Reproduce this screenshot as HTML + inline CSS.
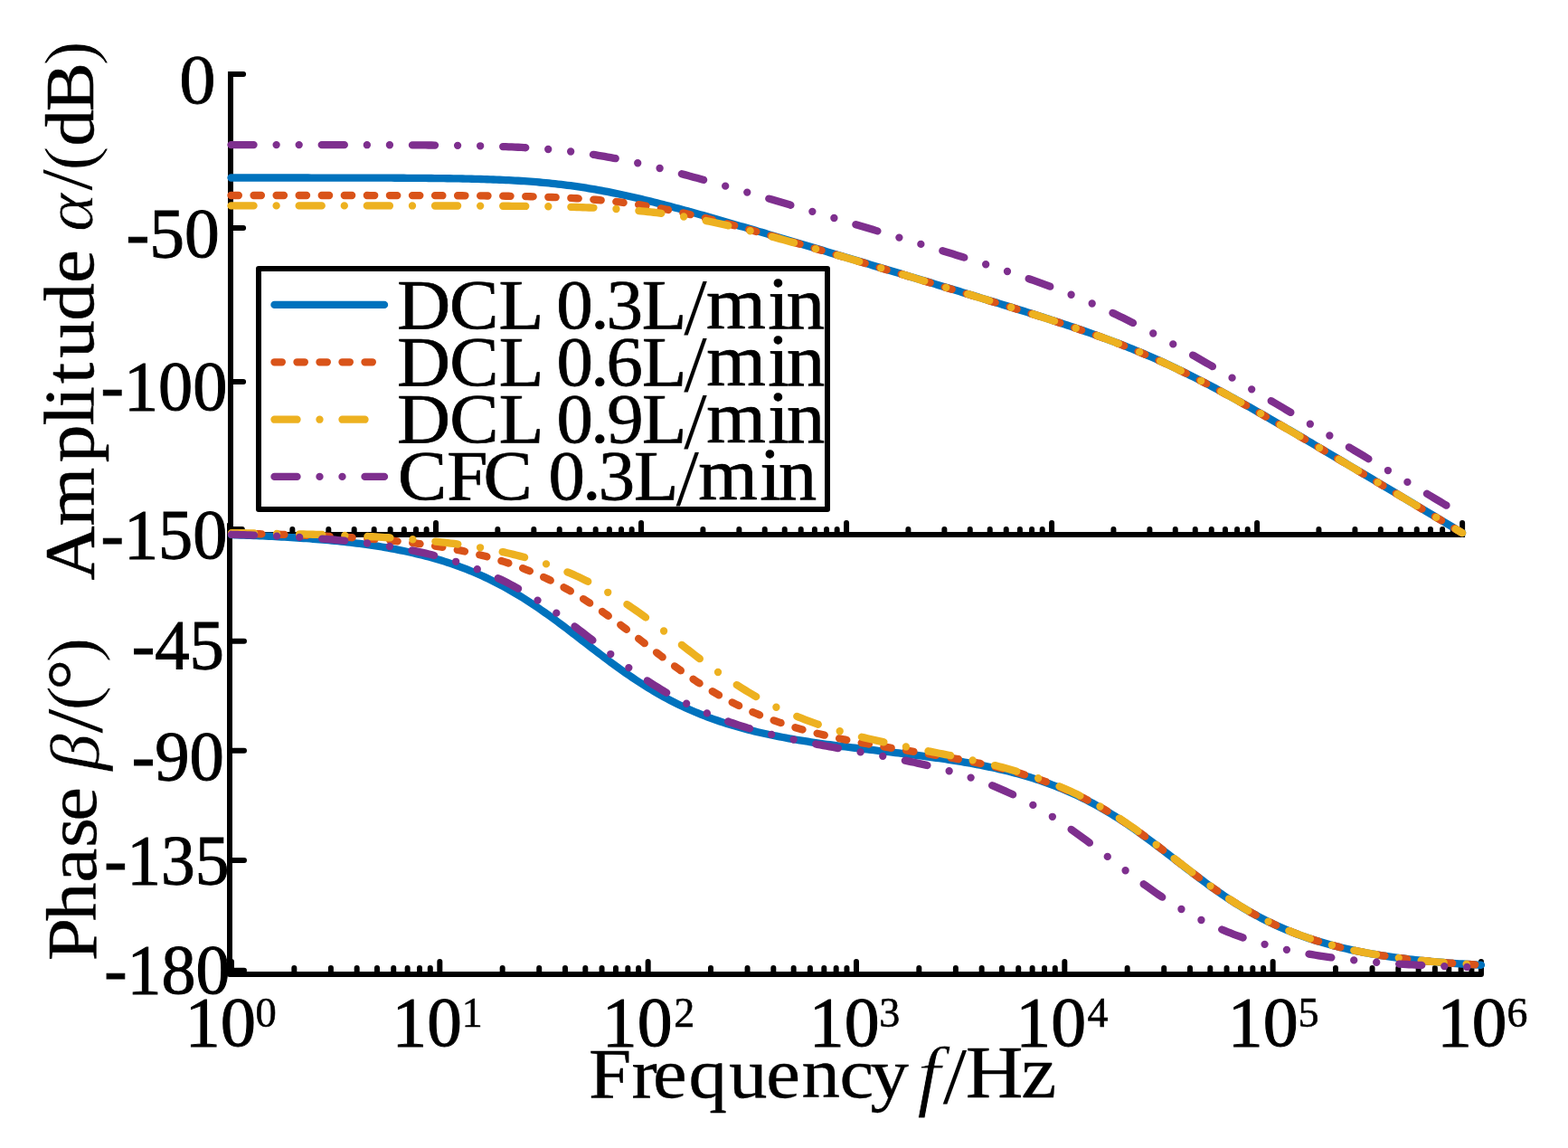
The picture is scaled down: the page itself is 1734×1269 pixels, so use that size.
<!DOCTYPE html>
<html lang="en"><head><meta charset="utf-8"><title>Bode plot: Amplitude and Phase vs Frequency</title>
<style>html,body{margin:0;padding:0;background:#fff}body{width:1734px;height:1269px;overflow:hidden}svg{display:block}text{font-family:"Liberation Serif",serif}</style>
</head><body>
<svg width="1734" height="1269" viewBox="0 0 1734 1269">
<rect width="1734" height="1269" fill="#fff"/>
<g stroke="#000" fill="none" stroke-width="6.00">
<path d="M255.0 82 V591.0" stroke-linecap="square"/>
<path d="M255.0 591.0 H1617.1" stroke-linecap="square"/>
<path d="M255.00 591.0 V578.0 M323.34 591.0 V585.0 M363.32 591.0 V585.0 M391.68 591.0 V585.0 M413.68 591.0 V585.0 M431.66 591.0 V585.0 M446.85 591.0 V585.0 M460.02 591.0 V585.0 M471.63 591.0 V585.0 M482.02 591.0 V578.0 M550.36 591.0 V585.0 M590.34 591.0 V585.0 M618.70 591.0 V585.0 M640.70 591.0 V585.0 M658.68 591.0 V585.0 M673.87 591.0 V585.0 M687.04 591.0 V585.0 M698.65 591.0 V585.0 M709.04 591.0 V578.0 M777.38 591.0 V585.0 M817.36 591.0 V585.0 M845.72 591.0 V585.0 M867.72 591.0 V585.0 M885.70 591.0 V585.0 M900.89 591.0 V585.0 M914.06 591.0 V585.0 M925.67 591.0 V585.0 M936.06 591.0 V578.0 M1004.40 591.0 V585.0 M1044.38 591.0 V585.0 M1072.74 591.0 V585.0 M1094.74 591.0 V585.0 M1112.72 591.0 V585.0 M1127.91 591.0 V585.0 M1141.08 591.0 V585.0 M1152.69 591.0 V585.0 M1163.08 591.0 V578.0 M1231.42 591.0 V585.0 M1271.40 591.0 V585.0 M1299.76 591.0 V585.0 M1321.76 591.0 V585.0 M1339.74 591.0 V585.0 M1354.93 591.0 V585.0 M1368.10 591.0 V585.0 M1379.71 591.0 V585.0 M1390.10 591.0 V578.0 M1458.44 591.0 V585.0 M1498.42 591.0 V585.0 M1526.78 591.0 V585.0 M1548.78 591.0 V585.0 M1566.76 591.0 V585.0 M1581.95 591.0 V585.0 M1595.12 591.0 V585.0 M1606.73 591.0 V585.0 M1617.12 591.0 V578.0" stroke-linecap="round"/>
<path d="M255.0 82 H269.1 M255.0 252 H269.1 M255.0 422 H269.1" stroke-linecap="round"/>
</g>
<g>
<path d="M255.50 196.51 L258.91 196.51 L262.33 196.51 L265.74 196.51 L269.15 196.51 L272.56 196.51 L275.98 196.51 L279.39 196.51 L282.80 196.51 L286.21 196.51 L289.63 196.51 L293.04 196.51 L296.45 196.51 L299.86 196.51 L303.28 196.52 L306.69 196.52 L310.10 196.52 L313.51 196.52 L316.93 196.52 L320.34 196.52 L323.75 196.52 L327.16 196.52 L330.58 196.53 L333.99 196.53 L337.40 196.53 L340.81 196.53 L344.23 196.54 L347.64 196.54 L351.05 196.54 L354.46 196.54 L357.88 196.55 L361.29 196.55 L364.70 196.55 L368.11 196.56 L371.53 196.56 L374.94 196.57 L378.35 196.57 L381.76 196.58 L385.18 196.58 L388.59 196.59 L392.00 196.59 L395.41 196.60 L398.83 196.61 L402.24 196.61 L405.65 196.62 L409.06 196.63 L412.48 196.64 L415.89 196.65 L419.30 196.66 L422.71 196.67 L426.13 196.69 L429.54 196.70 L432.95 196.71 L436.36 196.73 L439.78 196.74 L443.19 196.76 L446.60 196.78 L450.01 196.80 L453.43 196.82 L456.84 196.84 L460.25 196.87 L463.66 196.89 L467.08 196.92 L470.49 196.95 L473.90 196.98 L477.31 197.02 L480.73 197.05 L484.14 197.09 L487.55 197.13 L490.96 197.18 L494.38 197.23 L497.79 197.28 L501.20 197.33 L504.61 197.39 L508.03 197.45 L511.44 197.52 L514.85 197.59 L518.26 197.66 L521.68 197.74 L525.09 197.83 L528.50 197.92 L531.92 198.01 L535.33 198.12 L538.74 198.23 L542.15 198.34 L545.57 198.47 L548.98 198.60 L552.39 198.74 L555.80 198.89 L559.22 199.04 L562.63 199.21 L566.04 199.39 L569.45 199.57 L572.87 199.77 L576.28 199.98 L579.69 200.20 L583.10 200.43 L586.52 200.68 L589.93 200.94 L593.34 201.21 L596.75 201.50 L600.17 201.80 L603.58 202.11 L606.99 202.44 L610.40 202.79 L613.82 203.15 L617.23 203.53 L620.64 203.93 L624.05 204.34 L627.47 204.77 L630.88 205.22 L634.29 205.68 L637.70 206.17 L641.12 206.67 L644.53 207.18 L647.94 207.72 L651.35 208.27 L654.77 208.84 L658.18 209.43 L661.59 210.03 L665.00 210.66 L668.42 211.29 L671.83 211.95 L675.24 212.62 L678.65 213.31 L682.07 214.01 L685.48 214.73 L688.89 215.46 L692.30 216.20 L695.72 216.96 L699.13 217.74 L702.54 218.52 L705.95 219.32 L709.37 220.13 L712.78 220.95 L716.19 221.78 L719.60 222.62 L723.02 223.47 L726.43 224.34 L729.84 225.21 L733.25 226.09 L736.67 226.97 L740.08 227.87 L743.49 228.77 L746.90 229.68 L750.32 230.60 L753.73 231.52 L757.14 232.45 L760.55 233.39 L763.97 234.32 L767.38 235.27 L770.79 236.22 L774.20 237.17 L777.62 238.13 L781.03 239.09 L784.44 240.06 L787.85 241.03 L791.27 242.00 L794.68 242.98 L798.09 243.95 L801.51 244.94 L804.92 245.92 L808.33 246.91 L811.74 247.89 L815.16 248.88 L818.57 249.88 L821.98 250.87 L825.39 251.87 L828.81 252.86 L832.22 253.86 L835.63 254.86 L839.04 255.87 L842.46 256.87 L845.87 257.87 L849.28 258.88 L852.69 259.89 L856.11 260.89 L859.52 261.90 L862.93 262.91 L866.34 263.92 L869.76 264.93 L873.17 265.94 L876.58 266.95 L879.99 267.97 L883.41 268.98 L886.82 269.99 L890.23 271.01 L893.64 272.02 L897.06 273.04 L900.47 274.05 L903.88 275.07 L907.29 276.08 L910.71 277.10 L914.12 278.12 L917.53 279.14 L920.94 280.15 L924.36 281.17 L927.77 282.19 L931.18 283.21 L934.59 284.23 L938.01 285.25 L941.42 286.26 L944.83 287.28 L948.24 288.30 L951.66 289.32 L955.07 290.34 L958.48 291.36 L961.89 292.38 L965.31 293.40 L968.72 294.43 L972.13 295.45 L975.54 296.47 L978.96 297.49 L982.37 298.51 L985.78 299.53 L989.19 300.56 L992.61 301.58 L996.02 302.60 L999.43 303.62 L1002.84 304.65 L1006.26 305.67 L1009.67 306.70 L1013.08 307.72 L1016.49 308.74 L1019.91 309.77 L1023.32 310.79 L1026.73 311.82 L1030.14 312.85 L1033.56 313.87 L1036.97 314.90 L1040.38 315.93 L1043.79 316.96 L1047.21 317.99 L1050.62 319.01 L1054.03 320.05 L1057.44 321.08 L1060.86 322.11 L1064.27 323.14 L1067.68 324.17 L1071.09 325.21 L1074.51 326.24 L1077.92 327.28 L1081.33 328.32 L1084.75 329.36 L1088.16 330.40 L1091.57 331.44 L1094.98 332.48 L1098.40 333.52 L1101.81 334.57 L1105.22 335.62 L1108.63 336.67 L1112.05 337.72 L1115.46 338.77 L1118.87 339.83 L1122.28 340.89 L1125.70 341.95 L1129.11 343.02 L1132.52 344.08 L1135.93 345.15 L1139.35 346.23 L1142.76 347.30 L1146.17 348.39 L1149.58 349.47 L1153.00 350.56 L1156.41 351.66 L1159.82 352.76 L1163.23 353.86 L1166.65 354.97 L1170.06 356.09 L1173.47 357.21 L1176.88 358.34 L1180.30 359.47 L1183.71 360.62 L1187.12 361.77 L1190.53 362.92 L1193.95 364.09 L1197.36 365.27 L1200.77 366.45 L1204.18 367.65 L1207.60 368.85 L1211.01 370.07 L1214.42 371.30 L1217.83 372.54 L1221.25 373.79 L1224.66 375.05 L1228.07 376.33 L1231.48 377.62 L1234.90 378.92 L1238.31 380.24 L1241.72 381.57 L1245.13 382.92 L1248.55 384.29 L1251.96 385.67 L1255.37 387.06 L1258.78 388.48 L1262.20 389.91 L1265.61 391.35 L1269.02 392.82 L1272.43 394.30 L1275.85 395.80 L1279.26 397.31 L1282.67 398.85 L1286.08 400.40 L1289.50 401.97 L1292.91 403.56 L1296.32 405.16 L1299.73 406.79 L1303.15 408.42 L1306.56 410.08 L1309.97 411.75 L1313.38 413.44 L1316.80 415.15 L1320.21 416.86 L1323.62 418.60 L1327.03 420.35 L1330.45 422.11 L1333.86 423.89 L1337.27 425.68 L1340.68 427.48 L1344.10 429.30 L1347.51 431.13 L1350.92 432.97 L1354.34 434.82 L1357.75 436.68 L1361.16 438.55 L1364.57 440.43 L1367.99 442.32 L1371.40 444.22 L1374.81 446.12 L1378.22 448.04 L1381.64 449.96 L1385.05 451.89 L1388.46 453.82 L1391.87 455.77 L1395.29 457.71 L1398.70 459.67 L1402.11 461.63 L1405.52 463.59 L1408.94 465.56 L1412.35 467.53 L1415.76 469.51 L1419.17 471.49 L1422.59 473.48 L1426.00 475.47 L1429.41 477.46 L1432.82 479.46 L1436.24 481.45 L1439.65 483.46 L1443.06 485.46 L1446.47 487.47 L1449.89 489.47 L1453.30 491.48 L1456.71 493.50 L1460.12 495.51 L1463.54 497.53 L1466.95 499.55 L1470.36 501.56 L1473.77 503.58 L1477.19 505.61 L1480.60 507.63 L1484.01 509.65 L1487.42 511.68 L1490.84 513.71 L1494.25 515.73 L1497.66 517.76 L1501.07 519.79 L1504.49 521.82 L1507.90 523.85 L1511.31 525.88 L1514.72 527.92 L1518.14 529.95 L1521.55 531.98 L1524.96 534.02 L1528.37 536.05 L1531.79 538.08 L1535.20 540.12 L1538.61 542.16 L1542.02 544.19 L1545.44 546.23 L1548.85 548.26 L1552.26 550.30 L1555.67 552.34 L1559.09 554.38 L1562.50 556.41 L1565.91 558.45 L1569.32 560.49 L1572.74 562.53 L1576.15 564.57 L1579.56 566.60 L1582.97 568.64 L1586.39 570.68 L1589.80 572.72 L1593.21 574.76 L1596.62 576.80 L1600.04 578.84 L1603.45 580.88 L1606.86 582.92 L1610.27 584.96 L1613.69 587.00 L1617.10 589.04" fill="none" stroke="#0072BD" stroke-width="8.33" stroke-linecap="round" stroke-linejoin="round"/>
<path d="M255.50 216.00 L258.91 216.00 L262.33 216.00 L265.74 216.00 L269.15 216.00 L272.56 216.00 L275.98 216.00 L279.39 216.00 L282.80 216.00 L286.21 216.00 L289.63 216.00 L293.04 216.00 L296.45 216.00 L299.86 216.00 L303.28 216.00 L306.69 216.00 L310.10 216.00 L313.51 216.01 L316.93 216.01 L320.34 216.01 L323.75 216.01 L327.16 216.01 L330.58 216.01 L333.99 216.01 L337.40 216.01 L340.81 216.01 L344.23 216.01 L347.64 216.01 L351.05 216.01 L354.46 216.01 L357.88 216.01 L361.29 216.01 L364.70 216.01 L368.11 216.02 L371.53 216.02 L374.94 216.02 L378.35 216.02 L381.76 216.02 L385.18 216.02 L388.59 216.02 L392.00 216.03 L395.41 216.03 L398.83 216.03 L402.24 216.03 L405.65 216.03 L409.06 216.04 L412.48 216.04 L415.89 216.04 L419.30 216.04 L422.71 216.05 L426.13 216.05 L429.54 216.05 L432.95 216.06 L436.36 216.06 L439.78 216.07 L443.19 216.07 L446.60 216.08 L450.01 216.08 L453.43 216.09 L456.84 216.09 L460.25 216.10 L463.66 216.11 L467.08 216.11 L470.49 216.12 L473.90 216.13 L477.31 216.14 L480.73 216.15 L484.14 216.16 L487.55 216.17 L490.96 216.19 L494.38 216.20 L497.79 216.21 L501.20 216.23 L504.61 216.24 L508.03 216.26 L511.44 216.28 L514.85 216.30 L518.26 216.32 L521.68 216.34 L525.09 216.37 L528.50 216.40 L531.92 216.42 L535.33 216.45 L538.74 216.49 L542.15 216.52 L545.57 216.56 L548.98 216.59 L552.39 216.64 L555.80 216.68 L559.22 216.73 L562.63 216.78 L566.04 216.83 L569.45 216.89 L572.87 216.95 L576.28 217.02 L579.69 217.09 L583.10 217.17 L586.52 217.25 L589.93 217.33 L593.34 217.42 L596.75 217.52 L600.17 217.62 L603.58 217.73 L606.99 217.85 L610.40 217.97 L613.82 218.11 L617.23 218.25 L620.64 218.39 L624.05 218.55 L627.47 218.72 L630.88 218.90 L634.29 219.08 L637.70 219.28 L641.12 219.49 L644.53 219.71 L647.94 219.95 L651.35 220.19 L654.77 220.45 L658.18 220.73 L661.59 221.01 L665.00 221.31 L668.42 221.63 L671.83 221.96 L675.24 222.31 L678.65 222.67 L682.07 223.05 L685.48 223.45 L688.89 223.87 L692.30 224.30 L695.72 224.74 L699.13 225.21 L702.54 225.69 L705.95 226.19 L709.37 226.71 L712.78 227.25 L716.19 227.80 L719.60 228.37 L723.02 228.96 L726.43 229.57 L729.84 230.19 L733.25 230.83 L736.67 231.49 L740.08 232.16 L743.49 232.84 L746.90 233.55 L750.32 234.27 L753.73 235.00 L757.14 235.74 L760.55 236.50 L763.97 237.28 L767.38 238.06 L770.79 238.86 L774.20 239.67 L777.62 240.49 L781.03 241.33 L784.44 242.17 L787.85 243.02 L791.27 243.88 L794.68 244.76 L798.09 245.64 L801.51 246.52 L804.92 247.42 L808.33 248.32 L811.74 249.23 L815.16 250.15 L818.57 251.07 L821.98 252.00 L825.39 252.94 L828.81 253.88 L832.22 254.82 L835.63 255.77 L839.04 256.73 L842.46 257.68 L845.87 258.65 L849.28 259.61 L852.69 260.58 L856.11 261.56 L859.52 262.53 L862.93 263.51 L866.34 264.49 L869.76 265.48 L873.17 266.46 L876.58 267.45 L879.99 268.44 L883.41 269.43 L886.82 270.43 L890.23 271.43 L893.64 272.42 L897.06 273.42 L900.47 274.42 L903.88 275.43 L907.29 276.43 L910.71 277.43 L914.12 278.44 L917.53 279.45 L920.94 280.45 L924.36 281.46 L927.77 282.47 L931.18 283.48 L934.59 284.50 L938.01 285.51 L941.42 286.52 L944.83 287.53 L948.24 288.55 L951.66 289.56 L955.07 290.58 L958.48 291.59 L961.89 292.61 L965.31 293.63 L968.72 294.64 L972.13 295.66 L975.54 296.68 L978.96 297.70 L982.37 298.72 L985.78 299.74 L989.19 300.76 L992.61 301.78 L996.02 302.80 L999.43 303.82 L1002.84 304.84 L1006.26 305.86 L1009.67 306.88 L1013.08 307.91 L1016.49 308.93 L1019.91 309.95 L1023.32 310.98 L1026.73 312.00 L1030.14 313.03 L1033.56 314.05 L1036.97 315.08 L1040.38 316.11 L1043.79 317.13 L1047.21 318.16 L1050.62 319.19 L1054.03 320.22 L1057.44 321.25 L1060.86 322.28 L1064.27 323.31 L1067.68 324.35 L1071.09 325.38 L1074.51 326.41 L1077.92 327.45 L1081.33 328.49 L1084.75 329.53 L1088.16 330.57 L1091.57 331.61 L1094.98 332.65 L1098.40 333.69 L1101.81 334.74 L1105.22 335.79 L1108.63 336.84 L1112.05 337.89 L1115.46 338.94 L1118.87 340.00 L1122.28 341.06 L1125.70 342.12 L1129.11 343.18 L1132.52 344.25 L1135.93 345.32 L1139.35 346.39 L1142.76 347.47 L1146.17 348.55 L1149.58 349.64 L1153.00 350.73 L1156.41 351.82 L1159.82 352.92 L1163.23 354.03 L1166.65 355.14 L1170.06 356.25 L1173.47 357.38 L1176.88 358.50 L1180.30 359.64 L1183.71 360.78 L1187.12 361.93 L1190.53 363.09 L1193.95 364.26 L1197.36 365.43 L1200.77 366.62 L1204.18 367.81 L1207.60 369.02 L1211.01 370.24 L1214.42 371.46 L1217.83 372.70 L1221.25 373.95 L1224.66 375.22 L1228.07 376.49 L1231.48 377.78 L1234.90 379.09 L1238.31 380.41 L1241.72 381.74 L1245.13 383.09 L1248.55 384.45 L1251.96 385.83 L1255.37 387.23 L1258.78 388.64 L1262.20 390.07 L1265.61 391.52 L1269.02 392.98 L1272.43 394.46 L1275.85 395.96 L1279.26 397.48 L1282.67 399.02 L1286.08 400.57 L1289.50 402.14 L1292.91 403.72 L1296.32 405.33 L1299.73 406.95 L1303.15 408.59 L1306.56 410.25 L1309.97 411.92 L1313.38 413.61 L1316.80 415.31 L1320.21 417.03 L1323.62 418.76 L1327.03 420.51 L1330.45 422.28 L1333.86 424.06 L1337.27 425.85 L1340.68 427.65 L1344.10 429.46 L1347.51 431.29 L1350.92 433.13 L1354.34 434.98 L1357.75 436.84 L1361.16 438.71 L1364.57 440.59 L1367.99 442.48 L1371.40 444.38 L1374.81 446.29 L1378.22 448.20 L1381.64 450.12 L1385.05 452.05 L1388.46 453.99 L1391.87 455.93 L1395.29 457.88 L1398.70 459.83 L1402.11 461.79 L1405.52 463.76 L1408.94 465.73 L1412.35 467.70 L1415.76 469.68 L1419.17 471.66 L1422.59 473.64 L1426.00 475.63 L1429.41 477.63 L1432.82 479.62 L1436.24 481.62 L1439.65 483.62 L1443.06 485.62 L1446.47 487.63 L1449.89 489.64 L1453.30 491.65 L1456.71 493.66 L1460.12 495.68 L1463.54 497.69 L1466.95 499.71 L1470.36 501.73 L1473.77 503.75 L1477.19 505.77 L1480.60 507.80 L1484.01 509.82 L1487.42 511.85 L1490.84 513.87 L1494.25 515.90 L1497.66 517.93 L1501.07 519.96 L1504.49 521.99 L1507.90 524.02 L1511.31 526.05 L1514.72 528.08 L1518.14 530.11 L1521.55 532.15 L1524.96 534.18 L1528.37 536.22 L1531.79 538.25 L1535.20 540.29 L1538.61 542.32 L1542.02 544.36 L1545.44 546.39 L1548.85 548.43 L1552.26 550.47 L1555.67 552.50 L1559.09 554.54 L1562.50 556.58 L1565.91 558.62 L1569.32 560.65 L1572.74 562.69 L1576.15 564.73 L1579.56 566.77 L1582.97 568.81 L1586.39 570.85 L1589.80 572.89 L1593.21 574.93 L1596.62 576.97 L1600.04 579.00 L1603.45 581.04 L1606.86 583.08 L1610.27 585.12 L1613.69 587.16 L1617.10 589.20" fill="none" stroke="#D95319" stroke-width="8.33" stroke-linecap="round" stroke-linejoin="round" stroke-dasharray="8.350 16.710"/>
<path d="M255.50 227.40 L258.91 227.40 L262.33 227.40 L265.74 227.40 L269.15 227.40 L272.56 227.40 L275.98 227.40 L279.39 227.40 L282.80 227.40 L286.21 227.40 L289.63 227.40 L293.04 227.40 L296.45 227.40 L299.86 227.40 L303.28 227.40 L306.69 227.40 L310.10 227.40 L313.51 227.40 L316.93 227.40 L320.34 227.40 L323.75 227.40 L327.16 227.40 L330.58 227.40 L333.99 227.40 L337.40 227.40 L340.81 227.40 L344.23 227.40 L347.64 227.40 L351.05 227.41 L354.46 227.41 L357.88 227.41 L361.29 227.41 L364.70 227.41 L368.11 227.41 L371.53 227.41 L374.94 227.41 L378.35 227.41 L381.76 227.41 L385.18 227.41 L388.59 227.41 L392.00 227.41 L395.41 227.41 L398.83 227.41 L402.24 227.41 L405.65 227.42 L409.06 227.42 L412.48 227.42 L415.89 227.42 L419.30 227.42 L422.71 227.42 L426.13 227.42 L429.54 227.42 L432.95 227.43 L436.36 227.43 L439.78 227.43 L443.19 227.43 L446.60 227.43 L450.01 227.44 L453.43 227.44 L456.84 227.44 L460.25 227.45 L463.66 227.45 L467.08 227.45 L470.49 227.46 L473.90 227.46 L477.31 227.46 L480.73 227.47 L484.14 227.47 L487.55 227.48 L490.96 227.49 L494.38 227.49 L497.79 227.50 L501.20 227.51 L504.61 227.51 L508.03 227.52 L511.44 227.53 L514.85 227.54 L518.26 227.55 L521.68 227.56 L525.09 227.57 L528.50 227.58 L531.92 227.60 L535.33 227.61 L538.74 227.62 L542.15 227.64 L545.57 227.66 L548.98 227.68 L552.39 227.70 L555.80 227.72 L559.22 227.74 L562.63 227.76 L566.04 227.79 L569.45 227.82 L572.87 227.85 L576.28 227.88 L579.69 227.91 L583.10 227.95 L586.52 227.99 L589.93 228.03 L593.34 228.07 L596.75 228.12 L600.17 228.17 L603.58 228.22 L606.99 228.28 L610.40 228.34 L613.82 228.40 L617.23 228.47 L620.64 228.55 L624.05 228.63 L627.47 228.71 L630.88 228.80 L634.29 228.90 L637.70 229.00 L641.12 229.11 L644.53 229.22 L647.94 229.34 L651.35 229.47 L654.77 229.61 L658.18 229.76 L661.59 229.91 L665.00 230.08 L668.42 230.25 L671.83 230.44 L675.24 230.64 L678.65 230.84 L682.07 231.06 L685.48 231.29 L688.89 231.53 L692.30 231.79 L695.72 232.06 L699.13 232.34 L702.54 232.64 L705.95 232.96 L709.37 233.28 L712.78 233.63 L716.19 233.99 L719.60 234.36 L723.02 234.76 L726.43 235.17 L729.84 235.59 L733.25 236.04 L736.67 236.50 L740.08 236.98 L743.49 237.47 L746.90 237.99 L750.32 238.52 L753.73 239.07 L757.14 239.64 L760.55 240.22 L763.97 240.82 L767.38 241.44 L770.79 242.08 L774.20 242.73 L777.62 243.40 L781.03 244.08 L784.44 244.78 L787.85 245.50 L791.27 246.23 L794.68 246.97 L798.09 247.73 L801.51 248.50 L804.92 249.28 L808.33 250.07 L811.74 250.88 L815.16 251.70 L818.57 252.53 L821.98 253.37 L825.39 254.22 L828.81 255.08 L832.22 255.95 L835.63 256.83 L839.04 257.72 L842.46 258.61 L845.87 259.51 L849.28 260.42 L852.69 261.34 L856.11 262.26 L859.52 263.19 L862.93 264.12 L866.34 265.06 L869.76 266.00 L873.17 266.95 L876.58 267.90 L879.99 268.86 L883.41 269.82 L886.82 270.79 L890.23 271.76 L893.64 272.73 L897.06 273.71 L900.47 274.68 L903.88 275.67 L907.29 276.65 L910.71 277.64 L914.12 278.62 L917.53 279.61 L920.94 280.61 L924.36 281.60 L927.77 282.60 L931.18 283.60 L934.59 284.60 L938.01 285.60 L941.42 286.60 L944.83 287.60 L948.24 288.61 L951.66 289.61 L955.07 290.62 L958.48 291.63 L961.89 292.64 L965.31 293.65 L968.72 294.66 L972.13 295.67 L975.54 296.69 L978.96 297.70 L982.37 298.71 L985.78 299.73 L989.19 300.75 L992.61 301.76 L996.02 302.78 L999.43 303.80 L1002.84 304.82 L1006.26 305.84 L1009.67 306.85 L1013.08 307.88 L1016.49 308.90 L1019.91 309.92 L1023.32 310.94 L1026.73 311.96 L1030.14 312.99 L1033.56 314.01 L1036.97 315.04 L1040.38 316.06 L1043.79 317.09 L1047.21 318.11 L1050.62 319.14 L1054.03 320.17 L1057.44 321.20 L1060.86 322.23 L1064.27 323.26 L1067.68 324.29 L1071.09 325.33 L1074.51 326.36 L1077.92 327.39 L1081.33 328.43 L1084.75 329.47 L1088.16 330.51 L1091.57 331.55 L1094.98 332.59 L1098.40 333.63 L1101.81 334.68 L1105.22 335.73 L1108.63 336.78 L1112.05 337.83 L1115.46 338.88 L1118.87 339.94 L1122.28 341.00 L1125.70 342.06 L1129.11 343.12 L1132.52 344.19 L1135.93 345.26 L1139.35 346.33 L1142.76 347.41 L1146.17 348.49 L1149.58 349.58 L1153.00 350.67 L1156.41 351.76 L1159.82 352.86 L1163.23 353.96 L1166.65 355.07 L1170.06 356.19 L1173.47 357.31 L1176.88 358.44 L1180.30 359.58 L1183.71 360.72 L1187.12 361.87 L1190.53 363.03 L1193.95 364.19 L1197.36 365.37 L1200.77 366.55 L1204.18 367.75 L1207.60 368.96 L1211.01 370.17 L1214.42 371.40 L1217.83 372.64 L1221.25 373.89 L1224.66 375.15 L1228.07 376.43 L1231.48 377.72 L1234.90 379.02 L1238.31 380.34 L1241.72 381.67 L1245.13 383.02 L1248.55 384.39 L1251.96 385.77 L1255.37 387.16 L1258.78 388.58 L1262.20 390.01 L1265.61 391.45 L1269.02 392.92 L1272.43 394.40 L1275.85 395.90 L1279.26 397.42 L1282.67 398.95 L1286.08 400.50 L1289.50 402.07 L1292.91 403.66 L1296.32 405.26 L1299.73 406.89 L1303.15 408.53 L1306.56 410.18 L1309.97 411.85 L1313.38 413.54 L1316.80 415.25 L1320.21 416.97 L1323.62 418.70 L1327.03 420.45 L1330.45 422.21 L1333.86 423.99 L1337.27 425.78 L1340.68 427.58 L1344.10 429.40 L1347.51 431.23 L1350.92 433.07 L1354.34 434.92 L1357.75 436.78 L1361.16 438.65 L1364.57 440.53 L1367.99 442.42 L1371.40 444.32 L1374.81 446.22 L1378.22 448.14 L1381.64 450.06 L1385.05 451.99 L1388.46 453.92 L1391.87 455.87 L1395.29 457.81 L1398.70 459.77 L1402.11 461.73 L1405.52 463.69 L1408.94 465.66 L1412.35 467.63 L1415.76 469.61 L1419.17 471.59 L1422.59 473.58 L1426.00 475.57 L1429.41 477.56 L1432.82 479.56 L1436.24 481.56 L1439.65 483.56 L1443.06 485.56 L1446.47 487.57 L1449.89 489.57 L1453.30 491.58 L1456.71 493.60 L1460.12 495.61 L1463.54 497.63 L1466.95 499.65 L1470.36 501.66 L1473.77 503.69 L1477.19 505.71 L1480.60 507.73 L1484.01 509.76 L1487.42 511.78 L1490.84 513.81 L1494.25 515.83 L1497.66 517.86 L1501.07 519.89 L1504.49 521.92 L1507.90 523.95 L1511.31 525.98 L1514.72 528.02 L1518.14 530.05 L1521.55 532.08 L1524.96 534.12 L1528.37 536.15 L1531.79 538.19 L1535.20 540.22 L1538.61 542.26 L1542.02 544.29 L1545.44 546.33 L1548.85 548.36 L1552.26 550.40 L1555.67 552.44 L1559.09 554.48 L1562.50 556.51 L1565.91 558.55 L1569.32 560.59 L1572.74 562.63 L1576.15 564.67 L1579.56 566.71 L1582.97 568.74 L1586.39 570.78 L1589.80 572.82 L1593.21 574.86 L1596.62 576.90 L1600.04 578.94 L1603.45 580.98 L1606.86 583.02 L1610.27 585.06 L1613.69 587.10 L1617.10 589.14" fill="none" stroke="#EDB120" stroke-width="8.33" stroke-linecap="round" stroke-linejoin="round" stroke-dasharray="25.060 25.060 0.000 25.060"/>
<path d="M255.50 160.10 L258.91 160.11 L262.33 160.11 L265.74 160.11 L269.15 160.11 L272.56 160.11 L275.98 160.11 L279.39 160.11 L282.80 160.11 L286.21 160.11 L289.63 160.11 L293.04 160.11 L296.45 160.11 L299.86 160.11 L303.28 160.11 L306.69 160.11 L310.10 160.11 L313.51 160.12 L316.93 160.12 L320.34 160.12 L323.75 160.12 L327.16 160.12 L330.58 160.12 L333.99 160.12 L337.40 160.12 L340.81 160.13 L344.23 160.13 L347.64 160.13 L351.05 160.13 L354.46 160.13 L357.88 160.14 L361.29 160.14 L364.70 160.14 L368.11 160.15 L371.53 160.15 L374.94 160.15 L378.35 160.16 L381.76 160.16 L385.18 160.17 L388.59 160.17 L392.00 160.17 L395.41 160.18 L398.83 160.19 L402.24 160.19 L405.65 160.20 L409.06 160.21 L412.48 160.21 L415.89 160.22 L419.30 160.23 L422.71 160.24 L426.13 160.25 L429.54 160.26 L432.95 160.27 L436.36 160.28 L439.78 160.30 L443.19 160.31 L446.60 160.33 L450.01 160.34 L453.43 160.36 L456.84 160.38 L460.25 160.40 L463.66 160.42 L467.08 160.44 L470.49 160.46 L473.90 160.49 L477.31 160.52 L480.73 160.55 L484.14 160.58 L487.55 160.61 L490.96 160.65 L494.38 160.69 L497.79 160.73 L501.20 160.77 L504.61 160.82 L508.03 160.87 L511.44 160.92 L514.85 160.98 L518.26 161.04 L521.68 161.11 L525.09 161.18 L528.50 161.25 L531.92 161.33 L535.33 161.41 L538.74 161.50 L542.15 161.60 L545.57 161.70 L548.98 161.81 L552.39 161.92 L555.80 162.05 L559.22 162.18 L562.63 162.32 L566.04 162.46 L569.45 162.62 L572.87 162.78 L576.28 162.96 L579.69 163.14 L583.10 163.34 L586.52 163.55 L589.93 163.77 L593.34 164.00 L596.75 164.24 L600.17 164.50 L603.58 164.77 L606.99 165.05 L610.40 165.35 L613.82 165.66 L617.23 165.99 L620.64 166.34 L624.05 166.70 L627.47 167.07 L630.88 167.47 L634.29 167.88 L637.70 168.30 L641.12 168.75 L644.53 169.21 L647.94 169.69 L651.35 170.19 L654.77 170.70 L658.18 171.23 L661.59 171.78 L665.00 172.35 L668.42 172.94 L671.83 173.54 L675.24 174.16 L678.65 174.79 L682.07 175.45 L685.48 176.11 L688.89 176.80 L692.30 177.50 L695.72 178.21 L699.13 178.94 L702.54 179.69 L705.95 180.44 L709.37 181.21 L712.78 182.00 L716.19 182.79 L719.60 183.60 L723.02 184.42 L726.43 185.25 L729.84 186.09 L733.25 186.94 L736.67 187.80 L740.08 188.67 L743.49 189.55 L746.90 190.43 L750.32 191.33 L753.73 192.23 L757.14 193.14 L760.55 194.06 L763.97 194.98 L767.38 195.91 L770.79 196.84 L774.20 197.78 L777.62 198.72 L781.03 199.67 L784.44 200.62 L787.85 201.58 L791.27 202.54 L794.68 203.51 L798.09 204.48 L801.51 205.45 L804.92 206.42 L808.33 207.40 L811.74 208.38 L815.16 209.37 L818.57 210.35 L821.98 211.34 L825.39 212.33 L828.81 213.32 L832.22 214.32 L835.63 215.32 L839.04 216.31 L842.46 217.31 L845.87 218.31 L849.28 219.32 L852.69 220.32 L856.11 221.32 L859.52 222.33 L862.93 223.34 L866.34 224.34 L869.76 225.35 L873.17 226.36 L876.58 227.37 L879.99 228.38 L883.41 229.40 L886.82 230.41 L890.23 231.42 L893.64 232.44 L897.06 233.45 L900.47 234.47 L903.88 235.48 L907.29 236.50 L910.71 237.52 L914.12 238.53 L917.53 239.55 L920.94 240.57 L924.36 241.59 L927.77 242.61 L931.18 243.63 L934.59 244.65 L938.01 245.67 L941.42 246.69 L944.83 247.71 L948.24 248.74 L951.66 249.76 L955.07 250.78 L958.48 251.81 L961.89 252.83 L965.31 253.86 L968.72 254.88 L972.13 255.91 L975.54 256.94 L978.96 257.96 L982.37 258.99 L985.78 260.02 L989.19 261.05 L992.61 262.08 L996.02 263.11 L999.43 264.14 L1002.84 265.18 L1006.26 266.21 L1009.67 267.25 L1013.08 268.28 L1016.49 269.32 L1019.91 270.36 L1023.32 271.40 L1026.73 272.44 L1030.14 273.48 L1033.56 274.53 L1036.97 275.57 L1040.38 276.62 L1043.79 277.67 L1047.21 278.72 L1050.62 279.78 L1054.03 280.84 L1057.44 281.90 L1060.86 282.96 L1064.27 284.02 L1067.68 285.09 L1071.09 286.16 L1074.51 287.24 L1077.92 288.32 L1081.33 289.40 L1084.75 290.49 L1088.16 291.58 L1091.57 292.68 L1094.98 293.78 L1098.40 294.88 L1101.81 296.00 L1105.22 297.12 L1108.63 298.24 L1112.05 299.37 L1115.46 300.51 L1118.87 301.66 L1122.28 302.81 L1125.70 303.97 L1129.11 305.14 L1132.52 306.32 L1135.93 307.51 L1139.35 308.71 L1142.76 309.92 L1146.17 311.14 L1149.58 312.37 L1153.00 313.61 L1156.41 314.87 L1159.82 316.14 L1163.23 317.42 L1166.65 318.72 L1170.06 320.03 L1173.47 321.35 L1176.88 322.69 L1180.30 324.04 L1183.71 325.41 L1187.12 326.80 L1190.53 328.20 L1193.95 329.62 L1197.36 331.06 L1200.77 332.51 L1204.18 333.99 L1207.60 335.47 L1211.01 336.98 L1214.42 338.50 L1217.83 340.05 L1221.25 341.61 L1224.66 343.18 L1228.07 344.78 L1231.48 346.39 L1234.90 348.02 L1238.31 349.66 L1241.72 351.33 L1245.13 353.00 L1248.55 354.70 L1251.96 356.41 L1255.37 358.13 L1258.78 359.87 L1262.20 361.63 L1265.61 363.40 L1269.02 365.18 L1272.43 366.98 L1275.85 368.79 L1279.26 370.61 L1282.67 372.44 L1286.08 374.28 L1289.50 376.14 L1292.91 378.00 L1296.32 379.88 L1299.73 381.76 L1303.15 383.65 L1306.56 385.56 L1309.97 387.47 L1313.38 389.38 L1316.80 391.31 L1320.21 393.24 L1323.62 395.18 L1327.03 397.12 L1330.45 399.07 L1333.86 401.03 L1337.27 402.99 L1340.68 404.96 L1344.10 406.93 L1347.51 408.90 L1350.92 410.88 L1354.34 412.86 L1357.75 414.85 L1361.16 416.84 L1364.57 418.84 L1367.99 420.83 L1371.40 422.83 L1374.81 424.83 L1378.22 426.84 L1381.64 428.85 L1385.05 430.85 L1388.46 432.87 L1391.87 434.88 L1395.29 436.89 L1398.70 438.91 L1402.11 440.93 L1405.52 442.95 L1408.94 444.97 L1412.35 446.99 L1415.76 449.02 L1419.17 451.04 L1422.59 453.07 L1426.00 455.09 L1429.41 457.12 L1432.82 459.15 L1436.24 461.18 L1439.65 463.21 L1443.06 465.24 L1446.47 467.27 L1449.89 469.31 L1453.30 471.34 L1456.71 473.37 L1460.12 475.41 L1463.54 477.44 L1466.95 479.48 L1470.36 481.51 L1473.77 483.55 L1477.19 485.58 L1480.60 487.62 L1484.01 489.66 L1487.42 491.69 L1490.84 493.73 L1494.25 495.77 L1497.66 497.81 L1501.07 499.84 L1504.49 501.88 L1507.90 503.92 L1511.31 505.96 L1514.72 508.00 L1518.14 510.04 L1521.55 512.07 L1524.96 514.11 L1528.37 516.15 L1531.79 518.19 L1535.20 520.23 L1538.61 522.27 L1542.02 524.31 L1545.44 526.35 L1548.85 528.39 L1552.26 530.43 L1555.67 532.47 L1559.09 534.51 L1562.50 536.55 L1565.91 538.59 L1569.32 540.63 L1572.74 542.67 L1576.15 544.71 L1579.56 546.75 L1582.97 548.79 L1586.39 550.83 L1589.80 552.87 L1593.21 554.91 L1596.62 556.96 L1600.04 559.00 L1603.45 561.04 L1606.86 563.08 L1610.27 565.12 L1613.69 567.16 L1617.10 569.20" fill="none" stroke="#7E2F8E" stroke-width="8.33" stroke-linecap="round" stroke-linejoin="round" stroke-dasharray="25.060 25.060 0.000 25.060 0.000 25.060"/>
</g>
<g stroke="#000" fill="none" stroke-width="6.00">
<path d="M254.0 578.2 V1077.0 H1638" stroke-linejoin="round"/>
<path d="M256.00 1077.0 V1063.1 M325.34 1077.0 V1070.0 M365.90 1077.0 V1070.0 M394.67 1077.0 V1070.0 M416.99 1077.0 V1070.0 M435.23 1077.0 V1070.0 M450.65 1077.0 V1070.0 M464.01 1077.0 V1070.0 M475.79 1077.0 V1070.0 M486.33 1077.0 V1063.1 M555.67 1077.0 V1070.0 M596.23 1077.0 V1070.0 M625.00 1077.0 V1070.0 M647.32 1077.0 V1070.0 M665.56 1077.0 V1070.0 M680.98 1077.0 V1070.0 M694.34 1077.0 V1070.0 M706.12 1077.0 V1070.0 M716.66 1077.0 V1063.1 M786.00 1077.0 V1070.0 M826.56 1077.0 V1070.0 M855.33 1077.0 V1070.0 M877.65 1077.0 V1070.0 M895.89 1077.0 V1070.0 M911.31 1077.0 V1070.0 M924.67 1077.0 V1070.0 M936.45 1077.0 V1070.0 M946.99 1077.0 V1063.1 M1016.33 1077.0 V1070.0 M1056.89 1077.0 V1070.0 M1085.66 1077.0 V1070.0 M1107.98 1077.0 V1070.0 M1126.22 1077.0 V1070.0 M1141.64 1077.0 V1070.0 M1155.00 1077.0 V1070.0 M1166.78 1077.0 V1070.0 M1177.32 1077.0 V1063.1 M1246.66 1077.0 V1070.0 M1287.22 1077.0 V1070.0 M1315.99 1077.0 V1070.0 M1338.31 1077.0 V1070.0 M1356.55 1077.0 V1070.0 M1371.97 1077.0 V1070.0 M1385.33 1077.0 V1070.0 M1397.11 1077.0 V1070.0 M1407.65 1077.0 V1063.1 M1476.99 1077.0 V1070.0 M1517.55 1077.0 V1070.0 M1546.32 1077.0 V1070.0 M1568.64 1077.0 V1070.0 M1586.88 1077.0 V1070.0 M1602.30 1077.0 V1070.0 M1615.66 1077.0 V1070.0 M1627.44 1077.0 V1070.0 M1637.98 1077.0 V1063.1" stroke-linecap="round"/>
<path d="M254.0 585 H267.8 M254.0 708.8 H270 M254.0 829.8 H270 M254.0 951 H270 M254.0 1072.8 H270" stroke-linecap="round"/>
</g>
<g>
<path d="M256.00 591.15 L259.46 591.26 L262.93 591.37 L266.39 591.49 L269.85 591.61 L273.32 591.74 L276.78 591.87 L280.25 592.01 L283.71 592.15 L287.17 592.29 L290.64 592.45 L294.10 592.60 L297.56 592.76 L301.03 592.93 L304.49 593.11 L307.95 593.29 L311.42 593.47 L314.88 593.66 L318.34 593.86 L321.81 594.07 L325.27 594.28 L328.74 594.51 L332.20 594.73 L335.66 594.97 L339.13 595.22 L342.59 595.47 L346.05 595.73 L349.52 596.00 L352.98 596.29 L356.44 596.58 L359.91 596.88 L363.37 597.19 L366.84 597.51 L370.30 597.85 L373.76 598.19 L377.23 598.55 L380.69 598.92 L384.15 599.31 L387.62 599.70 L391.08 600.11 L394.54 600.54 L398.01 600.98 L401.47 601.43 L404.94 601.90 L408.40 602.39 L411.86 602.90 L415.33 603.42 L418.79 603.96 L422.25 604.51 L425.72 605.09 L429.18 605.69 L432.64 606.31 L436.11 606.94 L439.57 607.61 L443.03 608.29 L446.50 608.99 L449.96 609.72 L453.43 610.48 L456.89 611.26 L460.35 612.07 L463.82 612.90 L467.28 613.76 L470.74 614.65 L474.21 615.57 L477.67 616.52 L481.13 617.50 L484.60 618.51 L488.06 619.56 L491.53 620.64 L494.99 621.75 L498.45 622.90 L501.92 624.09 L505.38 625.31 L508.84 626.57 L512.31 627.87 L515.77 629.21 L519.23 630.59 L522.70 632.02 L526.16 633.48 L529.63 634.99 L533.09 636.54 L536.55 638.13 L540.02 639.77 L543.48 641.45 L546.94 643.18 L550.41 644.96 L553.87 646.78 L557.33 648.65 L560.80 650.56 L564.26 652.52 L567.72 654.53 L571.19 656.58 L574.65 658.68 L578.12 660.82 L581.58 663.00 L585.04 665.23 L588.51 667.50 L591.97 669.82 L595.43 672.17 L598.90 674.56 L602.36 676.98 L605.82 679.44 L609.29 681.93 L612.75 684.46 L616.22 687.01 L619.68 689.58 L623.14 692.18 L626.61 694.80 L630.07 697.43 L633.53 700.08 L637.00 702.74 L640.46 705.41 L643.92 708.08 L647.39 710.76 L650.85 713.43 L654.32 716.10 L657.78 718.76 L661.24 721.41 L664.71 724.05 L668.17 726.67 L671.63 729.26 L675.10 731.84 L678.56 734.39 L682.02 736.92 L685.49 739.41 L688.95 741.87 L692.41 744.30 L695.88 746.69 L699.34 749.04 L702.81 751.36 L706.27 753.63 L709.73 755.86 L713.20 758.05 L716.66 760.20 L720.12 762.30 L723.59 764.36 L727.05 766.37 L730.51 768.34 L733.98 770.26 L737.44 772.14 L740.91 773.97 L744.37 775.76 L747.83 777.50 L751.30 779.19 L754.76 780.84 L758.22 782.45 L761.69 784.02 L765.15 785.54 L768.61 787.02 L772.08 788.46 L775.54 789.86 L779.00 791.22 L782.47 792.54 L785.93 793.83 L789.40 795.08 L792.86 796.29 L796.32 797.46 L799.79 798.61 L803.25 799.72 L806.71 800.79 L810.18 801.84 L813.64 802.85 L817.10 803.84 L820.57 804.80 L824.03 805.73 L827.50 806.63 L830.96 807.50 L834.42 808.36 L837.89 809.18 L841.35 809.99 L844.81 810.77 L848.28 811.53 L851.74 812.26 L855.20 812.98 L858.67 813.68 L862.13 814.36 L865.60 815.02 L869.06 815.66 L872.52 816.29 L875.99 816.90 L879.45 817.50 L882.91 818.08 L886.38 818.65 L889.84 819.20 L893.30 819.74 L896.77 820.27 L900.23 820.79 L903.69 821.30 L907.16 821.79 L910.62 822.28 L914.09 822.76 L917.55 823.23 L921.01 823.69 L924.48 824.15 L927.94 824.60 L931.40 825.04 L934.87 825.47 L938.33 825.90 L941.79 826.33 L945.26 826.75 L948.72 827.16 L952.19 827.58 L955.65 827.99 L959.11 828.40 L962.58 828.80 L966.04 829.21 L969.50 829.61 L972.97 830.02 L976.43 830.42 L979.89 830.82 L983.36 831.23 L986.82 831.64 L990.29 832.05 L993.75 832.46 L997.21 832.87 L1000.68 833.29 L1004.14 833.71 L1007.60 834.13 L1011.07 834.56 L1014.53 835.00 L1017.99 835.44 L1021.46 835.89 L1024.92 836.35 L1028.38 836.81 L1031.85 837.28 L1035.31 837.76 L1038.78 838.25 L1042.24 838.74 L1045.70 839.25 L1049.17 839.77 L1052.63 840.30 L1056.09 840.85 L1059.56 841.40 L1063.02 841.97 L1066.48 842.55 L1069.95 843.15 L1073.41 843.76 L1076.88 844.39 L1080.34 845.04 L1083.80 845.70 L1087.27 846.38 L1090.73 847.08 L1094.19 847.80 L1097.66 848.54 L1101.12 849.30 L1104.58 850.08 L1108.05 850.89 L1111.51 851.71 L1114.98 852.57 L1118.44 853.45 L1121.90 854.35 L1125.37 855.28 L1128.83 856.24 L1132.29 857.23 L1135.76 858.25 L1139.22 859.30 L1142.68 860.38 L1146.15 861.49 L1149.61 862.63 L1153.07 863.81 L1156.54 865.03 L1160.00 866.28 L1163.47 867.57 L1166.93 868.89 L1170.39 870.25 L1173.86 871.66 L1177.32 873.10 L1180.78 874.59 L1184.25 876.11 L1187.71 877.68 L1191.17 879.29 L1194.64 880.95 L1198.10 882.65 L1201.57 884.39 L1205.03 886.18 L1208.49 888.02 L1211.96 889.90 L1215.42 891.82 L1218.88 893.79 L1222.35 895.81 L1225.81 897.87 L1229.27 899.98 L1232.74 902.13 L1236.20 904.32 L1239.66 906.56 L1243.13 908.84 L1246.59 911.15 L1250.06 913.51 L1253.52 915.91 L1256.98 918.34 L1260.45 920.80 L1263.91 923.30 L1267.37 925.82 L1270.84 928.38 L1274.30 930.95 L1277.76 933.55 L1281.23 936.17 L1284.69 938.81 L1288.16 941.46 L1291.62 944.12 L1295.08 946.79 L1298.55 949.47 L1302.01 952.14 L1305.47 954.81 L1308.94 957.48 L1312.40 960.14 L1315.86 962.79 L1319.33 965.42 L1322.79 968.04 L1326.26 970.64 L1329.72 973.21 L1333.18 975.76 L1336.65 978.28 L1340.11 980.77 L1343.57 983.22 L1347.04 985.65 L1350.50 988.03 L1353.96 990.38 L1357.43 992.69 L1360.89 994.96 L1364.35 997.18 L1367.82 999.36 L1371.28 1001.50 L1374.75 1003.60 L1378.21 1005.64 L1381.67 1007.65 L1385.14 1009.60 L1388.60 1011.51 L1392.06 1013.37 L1395.53 1015.19 L1398.99 1016.96 L1402.45 1018.69 L1405.92 1020.37 L1409.38 1022.00 L1412.85 1023.59 L1416.31 1025.14 L1419.77 1026.64 L1423.24 1028.10 L1426.70 1029.52 L1430.16 1030.90 L1433.63 1032.24 L1437.09 1033.53 L1440.55 1034.79 L1444.02 1036.01 L1447.48 1037.20 L1450.95 1038.34 L1454.41 1039.45 L1457.87 1040.53 L1461.34 1041.57 L1464.80 1042.58 L1468.26 1043.56 L1471.73 1044.51 L1475.19 1045.43 L1478.65 1046.31 L1482.12 1047.17 L1485.58 1048.00 L1489.04 1048.81 L1492.51 1049.59 L1495.97 1050.34 L1499.44 1051.07 L1502.90 1051.77 L1506.36 1052.45 L1509.83 1053.11 L1513.29 1053.75 L1516.75 1054.36 L1520.22 1054.96 L1523.68 1055.53 L1527.14 1056.09 L1530.61 1056.63 L1534.07 1057.15 L1537.54 1057.65 L1541.00 1058.14 L1544.46 1058.61 L1547.93 1059.06 L1551.39 1059.50 L1554.85 1059.92 L1558.32 1060.33 L1561.78 1060.73 L1565.24 1061.11 L1568.71 1061.48 L1572.17 1061.84 L1575.64 1062.18 L1579.10 1062.51 L1582.56 1062.84 L1586.03 1063.15 L1589.49 1063.45 L1592.95 1063.74 L1596.42 1064.02 L1599.88 1064.29 L1603.34 1064.55 L1606.81 1064.80 L1610.27 1065.05 L1613.73 1065.29 L1617.20 1065.51 L1620.66 1065.73 L1624.13 1065.95 L1627.59 1066.15 L1631.05 1066.35 L1634.52 1066.54 L1637.98 1066.73" fill="none" stroke="#0072BD" stroke-width="8.33" stroke-linecap="round" stroke-linejoin="round"/>
<path d="M256.00 589.64 L259.46 589.70 L262.93 589.76 L266.39 589.82 L269.85 589.89 L273.32 589.95 L276.78 590.02 L280.25 590.09 L283.71 590.17 L287.17 590.24 L290.64 590.32 L294.10 590.40 L297.56 590.49 L301.03 590.57 L304.49 590.66 L307.95 590.76 L311.42 590.86 L314.88 590.96 L318.34 591.06 L321.81 591.17 L325.27 591.28 L328.74 591.40 L332.20 591.52 L335.66 591.64 L339.13 591.77 L342.59 591.90 L346.05 592.04 L349.52 592.18 L352.98 592.33 L356.44 592.48 L359.91 592.64 L363.37 592.80 L366.84 592.97 L370.30 593.14 L373.76 593.32 L377.23 593.51 L380.69 593.71 L384.15 593.91 L387.62 594.11 L391.08 594.33 L394.54 594.55 L398.01 594.78 L401.47 595.02 L404.94 595.27 L408.40 595.52 L411.86 595.79 L415.33 596.06 L418.79 596.35 L422.25 596.64 L425.72 596.94 L429.18 597.26 L432.64 597.58 L436.11 597.92 L439.57 598.27 L443.03 598.63 L446.50 599.00 L449.96 599.39 L453.43 599.79 L456.89 600.20 L460.35 600.63 L463.82 601.07 L467.28 601.53 L470.74 602.01 L474.21 602.50 L477.67 603.00 L481.13 603.53 L484.60 604.07 L488.06 604.64 L491.53 605.22 L494.99 605.82 L498.45 606.44 L501.92 607.08 L505.38 607.75 L508.84 608.44 L512.31 609.15 L515.77 609.88 L519.23 610.64 L522.70 611.43 L526.16 612.24 L529.63 613.08 L533.09 613.95 L536.55 614.84 L540.02 615.77 L543.48 616.73 L546.94 617.71 L550.41 618.73 L553.87 619.79 L557.33 620.87 L560.80 622.00 L564.26 623.15 L567.72 624.35 L571.19 625.58 L574.65 626.85 L578.12 628.16 L581.58 629.51 L585.04 630.90 L588.51 632.33 L591.97 633.80 L595.43 635.32 L598.90 636.88 L602.36 638.48 L605.82 640.13 L609.29 641.83 L612.75 643.57 L616.22 645.35 L619.68 647.18 L623.14 649.06 L626.61 650.99 L630.07 652.96 L633.53 654.97 L637.00 657.04 L640.46 659.15 L643.92 661.30 L647.39 663.50 L650.85 665.74 L654.32 668.02 L657.78 670.34 L661.24 672.70 L664.71 675.10 L668.17 677.54 L671.63 680.01 L675.10 682.51 L678.56 685.04 L682.02 687.60 L685.49 690.19 L688.95 692.80 L692.41 695.42 L695.88 698.07 L699.34 700.73 L702.81 703.39 L706.27 706.07 L709.73 708.75 L713.20 711.43 L716.66 714.11 L720.12 716.79 L723.59 719.45 L727.05 722.11 L730.51 724.75 L733.98 727.38 L737.44 729.98 L740.91 732.56 L744.37 735.12 L747.83 737.65 L751.30 740.14 L754.76 742.61 L758.22 745.04 L761.69 747.44 L765.15 749.80 L768.61 752.12 L772.08 754.40 L775.54 756.64 L779.00 758.83 L782.47 760.99 L785.93 763.10 L789.40 765.16 L792.86 767.18 L796.32 769.16 L799.79 771.09 L803.25 772.97 L806.71 774.81 L810.18 776.61 L813.64 778.36 L817.10 780.07 L820.57 781.74 L824.03 783.36 L827.50 784.94 L830.96 786.48 L834.42 787.98 L837.89 789.43 L841.35 790.85 L844.81 792.23 L848.28 793.58 L851.74 794.88 L855.20 796.15 L858.67 797.39 L862.13 798.59 L865.60 799.76 L869.06 800.90 L872.52 802.00 L875.99 803.08 L879.45 804.13 L882.91 805.15 L886.38 806.14 L889.84 807.10 L893.30 808.05 L896.77 808.96 L900.23 809.85 L903.69 810.72 L907.16 811.57 L910.62 812.40 L914.09 813.21 L917.55 814.00 L921.01 814.77 L924.48 815.52 L927.94 816.26 L931.40 816.98 L934.87 817.68 L938.33 818.38 L941.79 819.05 L945.26 819.72 L948.72 820.37 L952.19 821.02 L955.65 821.65 L959.11 822.27 L962.58 822.88 L966.04 823.49 L969.50 824.09 L972.97 824.68 L976.43 825.26 L979.89 825.84 L983.36 826.41 L986.82 826.98 L990.29 827.55 L993.75 828.11 L997.21 828.67 L1000.68 829.23 L1004.14 829.79 L1007.60 830.35 L1011.07 830.91 L1014.53 831.47 L1017.99 832.03 L1021.46 832.60 L1024.92 833.16 L1028.38 833.73 L1031.85 834.31 L1035.31 834.89 L1038.78 835.47 L1042.24 836.07 L1045.70 836.67 L1049.17 837.27 L1052.63 837.89 L1056.09 838.51 L1059.56 839.15 L1063.02 839.79 L1066.48 840.45 L1069.95 841.12 L1073.41 841.80 L1076.88 842.50 L1080.34 843.21 L1083.80 843.93 L1087.27 844.67 L1090.73 845.43 L1094.19 846.20 L1097.66 847.00 L1101.12 847.81 L1104.58 848.64 L1108.05 849.50 L1111.51 850.37 L1114.98 851.27 L1118.44 852.20 L1121.90 853.14 L1125.37 854.11 L1128.83 855.11 L1132.29 856.14 L1135.76 857.20 L1139.22 858.28 L1142.68 859.39 L1146.15 860.54 L1149.61 861.72 L1153.07 862.93 L1156.54 864.17 L1160.00 865.45 L1163.47 866.77 L1166.93 868.12 L1170.39 869.51 L1173.86 870.94 L1177.32 872.41 L1180.78 873.92 L1184.25 875.46 L1187.71 877.06 L1191.17 878.69 L1194.64 880.36 L1198.10 882.08 L1201.57 883.85 L1205.03 885.66 L1208.49 887.51 L1211.96 889.41 L1215.42 891.35 L1218.88 893.34 L1222.35 895.37 L1225.81 897.44 L1229.27 899.56 L1232.74 901.73 L1236.20 903.94 L1239.66 906.19 L1243.13 908.48 L1246.59 910.81 L1250.06 913.17 L1253.52 915.58 L1256.98 918.02 L1260.45 920.50 L1263.91 923.00 L1267.37 925.54 L1270.84 928.10 L1274.30 930.69 L1277.76 933.30 L1281.23 935.93 L1284.69 938.57 L1288.16 941.23 L1291.62 943.90 L1295.08 946.58 L1298.55 949.26 L1302.01 951.94 L1305.47 954.62 L1308.94 957.29 L1312.40 959.96 L1315.86 962.61 L1319.33 965.25 L1322.79 967.88 L1326.26 970.48 L1329.72 973.06 L1333.18 975.61 L1336.65 978.14 L1340.11 980.63 L1343.57 983.09 L1347.04 985.52 L1350.50 987.91 L1353.96 990.26 L1357.43 992.57 L1360.89 994.85 L1364.35 997.07 L1367.82 999.26 L1371.28 1001.40 L1374.75 1003.50 L1378.21 1005.55 L1381.67 1007.56 L1385.14 1009.51 L1388.60 1011.43 L1392.06 1013.29 L1395.53 1015.11 L1398.99 1016.89 L1402.45 1018.62 L1405.92 1020.30 L1409.38 1021.94 L1412.85 1023.53 L1416.31 1025.08 L1419.77 1026.58 L1423.24 1028.04 L1426.70 1029.47 L1430.16 1030.84 L1433.63 1032.18 L1437.09 1033.48 L1440.55 1034.74 L1444.02 1035.96 L1447.48 1037.15 L1450.95 1038.30 L1454.41 1039.41 L1457.87 1040.49 L1461.34 1041.53 L1464.80 1042.54 L1468.26 1043.52 L1471.73 1044.47 L1475.19 1045.39 L1478.65 1046.28 L1482.12 1047.14 L1485.58 1047.97 L1489.04 1048.78 L1492.51 1049.56 L1495.97 1050.31 L1499.44 1051.04 L1502.90 1051.74 L1506.36 1052.43 L1509.83 1053.08 L1513.29 1053.72 L1516.75 1054.34 L1520.22 1054.94 L1523.68 1055.51 L1527.14 1056.07 L1530.61 1056.61 L1534.07 1057.13 L1537.54 1057.63 L1541.00 1058.12 L1544.46 1058.59 L1547.93 1059.04 L1551.39 1059.48 L1554.85 1059.90 L1558.32 1060.32 L1561.78 1060.71 L1565.24 1061.09 L1568.71 1061.46 L1572.17 1061.82 L1575.64 1062.17 L1579.10 1062.50 L1582.56 1062.82 L1586.03 1063.14 L1589.49 1063.44 L1592.95 1063.73 L1596.42 1064.01 L1599.88 1064.28 L1603.34 1064.54 L1606.81 1064.80 L1610.27 1065.04 L1613.73 1065.28 L1617.20 1065.51 L1620.66 1065.73 L1624.13 1065.94 L1627.59 1066.15 L1631.05 1066.34 L1634.52 1066.54 L1637.98 1066.72" fill="none" stroke="#D95319" stroke-width="8.33" stroke-linecap="round" stroke-linejoin="round" stroke-dasharray="8.355 16.720"/>
<path d="M256.00 589.11 L259.46 589.15 L262.93 589.19 L266.39 589.23 L269.85 589.28 L273.32 589.32 L276.78 589.37 L280.25 589.42 L283.71 589.47 L287.17 589.52 L290.64 589.57 L294.10 589.63 L297.56 589.68 L301.03 589.74 L304.49 589.80 L307.95 589.87 L311.42 589.93 L314.88 590.00 L318.34 590.07 L321.81 590.15 L325.27 590.22 L328.74 590.30 L332.20 590.38 L335.66 590.46 L339.13 590.55 L342.59 590.64 L346.05 590.73 L349.52 590.83 L352.98 590.93 L356.44 591.03 L359.91 591.14 L363.37 591.25 L366.84 591.37 L370.30 591.48 L373.76 591.61 L377.23 591.73 L380.69 591.86 L384.15 592.00 L387.62 592.14 L391.08 592.29 L394.54 592.44 L398.01 592.59 L401.47 592.76 L404.94 592.92 L408.40 593.10 L411.86 593.28 L415.33 593.46 L418.79 593.66 L422.25 593.85 L425.72 594.06 L429.18 594.27 L432.64 594.49 L436.11 594.72 L439.57 594.96 L443.03 595.20 L446.50 595.46 L449.96 595.72 L453.43 595.99 L456.89 596.27 L460.35 596.56 L463.82 596.86 L467.28 597.18 L470.74 597.50 L474.21 597.83 L477.67 598.18 L481.13 598.54 L484.60 598.90 L488.06 599.29 L491.53 599.68 L494.99 600.09 L498.45 600.52 L501.92 600.96 L505.38 601.41 L508.84 601.88 L512.31 602.37 L515.77 602.87 L519.23 603.39 L522.70 603.93 L526.16 604.49 L529.63 605.06 L533.09 605.66 L536.55 606.28 L540.02 606.91 L543.48 607.57 L546.94 608.26 L550.41 608.96 L553.87 609.69 L557.33 610.44 L560.80 611.22 L564.26 612.03 L567.72 612.86 L571.19 613.72 L574.65 614.61 L578.12 615.53 L581.58 616.48 L585.04 617.46 L588.51 618.47 L591.97 619.51 L595.43 620.59 L598.90 621.70 L602.36 622.85 L605.82 624.04 L609.29 625.26 L612.75 626.52 L616.22 627.82 L619.68 629.16 L623.14 630.54 L626.61 631.96 L630.07 633.42 L633.53 634.92 L637.00 636.47 L640.46 638.07 L643.92 639.71 L647.39 641.39 L650.85 643.12 L654.32 644.89 L657.78 646.71 L661.24 648.58 L664.71 650.49 L668.17 652.45 L671.63 654.46 L675.10 656.51 L678.56 658.61 L682.02 660.76 L685.49 662.94 L688.95 665.17 L692.41 667.45 L695.88 669.76 L699.34 672.12 L702.81 674.51 L706.27 676.94 L709.73 679.41 L713.20 681.90 L716.66 684.43 L720.12 686.99 L723.59 689.57 L727.05 692.18 L730.51 694.81 L733.98 697.45 L737.44 700.11 L740.91 702.78 L744.37 705.46 L747.83 708.15 L751.30 710.84 L754.76 713.53 L758.22 716.21 L761.69 718.89 L765.15 721.56 L768.61 724.21 L772.08 726.85 L775.54 729.47 L779.00 732.07 L782.47 734.64 L785.93 737.19 L789.40 739.70 L792.86 742.19 L796.32 744.64 L799.79 747.06 L803.25 749.45 L806.71 751.79 L810.18 754.09 L813.64 756.36 L817.10 758.58 L820.57 760.76 L824.03 762.90 L827.50 764.99 L830.96 767.04 L834.42 769.05 L837.89 771.01 L841.35 772.92 L844.81 774.80 L848.28 776.62 L851.74 778.41 L855.20 780.15 L858.67 781.85 L862.13 783.50 L865.60 785.12 L869.06 786.69 L872.52 788.23 L875.99 789.72 L879.45 791.18 L882.91 792.59 L886.38 793.97 L889.84 795.32 L893.30 796.63 L896.77 797.91 L900.23 799.15 L903.69 800.36 L907.16 801.54 L910.62 802.69 L914.09 803.81 L917.55 804.90 L921.01 805.97 L924.48 807.01 L927.94 808.02 L931.40 809.02 L934.87 809.98 L938.33 810.93 L941.79 811.85 L945.26 812.76 L948.72 813.64 L952.19 814.51 L955.65 815.35 L959.11 816.19 L962.58 817.00 L966.04 817.80 L969.50 818.59 L972.97 819.37 L976.43 820.13 L979.89 820.88 L983.36 821.62 L986.82 822.35 L990.29 823.07 L993.75 823.79 L997.21 824.49 L1000.68 825.19 L1004.14 825.89 L1007.60 826.58 L1011.07 827.27 L1014.53 827.95 L1017.99 828.63 L1021.46 829.31 L1024.92 829.99 L1028.38 830.66 L1031.85 831.34 L1035.31 832.02 L1038.78 832.71 L1042.24 833.39 L1045.70 834.08 L1049.17 834.78 L1052.63 835.48 L1056.09 836.18 L1059.56 836.90 L1063.02 837.62 L1066.48 838.35 L1069.95 839.09 L1073.41 839.84 L1076.88 840.60 L1080.34 841.38 L1083.80 842.16 L1087.27 842.96 L1090.73 843.78 L1094.19 844.61 L1097.66 845.46 L1101.12 846.32 L1104.58 847.21 L1108.05 848.11 L1111.51 849.03 L1114.98 849.98 L1118.44 850.95 L1121.90 851.93 L1125.37 852.95 L1128.83 853.99 L1132.29 855.05 L1135.76 856.14 L1139.22 857.26 L1142.68 858.41 L1146.15 859.59 L1149.61 860.80 L1153.07 862.04 L1156.54 863.32 L1160.00 864.63 L1163.47 865.97 L1166.93 867.35 L1170.39 868.77 L1173.86 870.22 L1177.32 871.71 L1180.78 873.24 L1184.25 874.82 L1187.71 876.43 L1191.17 878.08 L1194.64 879.78 L1198.10 881.52 L1201.57 883.30 L1205.03 885.13 L1208.49 887.00 L1211.96 888.91 L1215.42 890.87 L1218.88 892.88 L1222.35 894.92 L1225.81 897.02 L1229.27 899.15 L1232.74 901.33 L1236.20 903.55 L1239.66 905.81 L1243.13 908.12 L1246.59 910.46 L1250.06 912.84 L1253.52 915.26 L1256.98 917.71 L1260.45 920.19 L1263.91 922.71 L1267.37 925.26 L1270.84 927.83 L1274.30 930.43 L1277.76 933.05 L1281.23 935.68 L1284.69 938.34 L1288.16 941.00 L1291.62 943.68 L1295.08 946.36 L1298.55 949.05 L1302.01 951.74 L1305.47 954.43 L1308.94 957.11 L1312.40 959.78 L1315.86 962.44 L1319.33 965.09 L1322.79 967.71 L1326.26 970.32 L1329.72 972.91 L1333.18 975.46 L1336.65 977.99 L1340.11 980.49 L1343.57 982.96 L1347.04 985.39 L1350.50 987.79 L1353.96 990.14 L1357.43 992.46 L1360.89 994.74 L1364.35 996.97 L1367.82 999.16 L1371.28 1001.30 L1374.75 1003.40 L1378.21 1005.46 L1381.67 1007.47 L1385.14 1009.43 L1388.60 1011.34 L1392.06 1013.21 L1395.53 1015.04 L1398.99 1016.81 L1402.45 1018.54 L1405.92 1020.23 L1409.38 1021.87 L1412.85 1023.46 L1416.31 1025.01 L1419.77 1026.52 L1423.24 1027.99 L1426.70 1029.41 L1430.16 1030.79 L1433.63 1032.13 L1437.09 1033.43 L1440.55 1034.69 L1444.02 1035.92 L1447.48 1037.10 L1450.95 1038.25 L1454.41 1039.37 L1457.87 1040.45 L1461.34 1041.49 L1464.80 1042.50 L1468.26 1043.49 L1471.73 1044.44 L1475.19 1045.35 L1478.65 1046.24 L1482.12 1047.11 L1485.58 1047.94 L1489.04 1048.75 L1492.51 1049.53 L1495.97 1050.28 L1499.44 1051.01 L1502.90 1051.72 L1506.36 1052.40 L1509.83 1053.06 L1513.29 1053.70 L1516.75 1054.32 L1520.22 1054.91 L1523.68 1055.49 L1527.14 1056.05 L1530.61 1056.59 L1534.07 1057.11 L1537.54 1057.61 L1541.00 1058.10 L1544.46 1058.57 L1547.93 1059.02 L1551.39 1059.46 L1554.85 1059.89 L1558.32 1060.30 L1561.78 1060.70 L1565.24 1061.08 L1568.71 1061.45 L1572.17 1061.81 L1575.64 1062.15 L1579.10 1062.49 L1582.56 1062.81 L1586.03 1063.12 L1589.49 1063.42 L1592.95 1063.72 L1596.42 1064.00 L1599.88 1064.27 L1603.34 1064.53 L1606.81 1064.79 L1610.27 1065.03 L1613.73 1065.27 L1617.20 1065.50 L1620.66 1065.72 L1624.13 1065.93 L1627.59 1066.14 L1631.05 1066.34 L1634.52 1066.53 L1637.98 1066.72" fill="none" stroke="#EDB120" stroke-width="8.33" stroke-linecap="round" stroke-linejoin="round" stroke-dasharray="25.075 25.075 0.000 25.075"/>
<path d="M256.00 590.79 L259.46 590.88 L262.93 590.99 L266.39 591.09 L269.85 591.20 L273.32 591.31 L276.78 591.43 L280.25 591.55 L283.71 591.68 L287.17 591.81 L290.64 591.94 L294.10 592.08 L297.56 592.22 L301.03 592.37 L304.49 592.52 L307.95 592.68 L311.42 592.85 L314.88 593.02 L318.34 593.20 L321.81 593.38 L325.27 593.57 L328.74 593.76 L332.20 593.97 L335.66 594.18 L339.13 594.39 L342.59 594.62 L346.05 594.85 L349.52 595.09 L352.98 595.34 L356.44 595.60 L359.91 595.87 L363.37 596.14 L366.84 596.43 L370.30 596.73 L373.76 597.03 L377.23 597.35 L380.69 597.68 L384.15 598.02 L387.62 598.37 L391.08 598.74 L394.54 599.11 L398.01 599.50 L401.47 599.91 L404.94 600.33 L408.40 600.76 L411.86 601.21 L415.33 601.67 L418.79 602.15 L422.25 602.64 L425.72 603.16 L429.18 603.69 L432.64 604.23 L436.11 604.80 L439.57 605.39 L443.03 606.00 L446.50 606.62 L449.96 607.27 L453.43 607.95 L456.89 608.64 L460.35 609.36 L463.82 610.10 L467.28 610.87 L470.74 611.66 L474.21 612.48 L477.67 613.33 L481.13 614.21 L484.60 615.11 L488.06 616.05 L491.53 617.01 L494.99 618.01 L498.45 619.04 L501.92 620.10 L505.38 621.20 L508.84 622.33 L512.31 623.50 L515.77 624.70 L519.23 625.95 L522.70 627.23 L526.16 628.55 L529.63 629.91 L533.09 631.31 L536.55 632.75 L540.02 634.24 L543.48 635.77 L546.94 637.34 L550.41 638.96 L553.87 640.62 L557.33 642.33 L560.80 644.08 L564.26 645.88 L567.72 647.73 L571.19 649.62 L574.65 651.56 L578.12 653.55 L581.58 655.58 L585.04 657.65 L588.51 659.78 L591.97 661.94 L595.43 664.15 L598.90 666.41 L602.36 668.70 L605.82 671.04 L609.29 673.41 L612.75 675.82 L616.22 678.27 L619.68 680.75 L623.14 683.27 L626.61 685.81 L630.07 688.38 L633.53 690.97 L637.00 693.59 L640.46 696.22 L643.92 698.87 L647.39 701.53 L650.85 704.21 L654.32 706.89 L657.78 709.57 L661.24 712.26 L664.71 714.94 L668.17 717.61 L671.63 720.28 L675.10 722.94 L678.56 725.58 L682.02 728.20 L685.49 730.80 L688.95 733.38 L692.41 735.93 L695.88 738.46 L699.34 740.95 L702.81 743.41 L706.27 745.84 L709.73 748.23 L713.20 750.59 L716.66 752.90 L720.12 755.17 L723.59 757.41 L727.05 759.60 L730.51 761.74 L733.98 763.85 L737.44 765.91 L740.91 767.92 L744.37 769.89 L747.83 771.82 L751.30 773.70 L754.76 775.53 L758.22 777.33 L761.69 779.07 L765.15 780.78 L768.61 782.44 L772.08 784.06 L775.54 785.64 L779.00 787.17 L782.47 788.67 L785.93 790.13 L789.40 791.55 L792.86 792.93 L796.32 794.27 L799.79 795.58 L803.25 796.85 L806.71 798.09 L810.18 799.30 L813.64 800.47 L817.10 801.61 L820.57 802.73 L824.03 803.81 L827.50 804.87 L830.96 805.89 L834.42 806.90 L837.89 807.87 L841.35 808.82 L844.81 809.75 L848.28 810.66 L851.74 811.54 L855.20 812.40 L858.67 813.25 L862.13 814.07 L865.60 814.88 L869.06 815.67 L872.52 816.44 L875.99 817.20 L879.45 817.94 L882.91 818.67 L886.38 819.38 L889.84 820.09 L893.30 820.78 L896.77 821.46 L900.23 822.13 L903.69 822.80 L907.16 823.45 L910.62 824.10 L914.09 824.74 L917.55 825.37 L921.01 826.00 L924.48 826.62 L927.94 827.24 L931.40 827.86 L934.87 828.47 L938.33 829.08 L941.79 829.69 L945.26 830.30 L948.72 830.91 L952.19 831.53 L955.65 832.14 L959.11 832.76 L962.58 833.38 L966.04 834.00 L969.50 834.63 L972.97 835.26 L976.43 835.90 L979.89 836.55 L983.36 837.20 L986.82 837.86 L990.29 838.53 L993.75 839.22 L997.21 839.91 L1000.68 840.61 L1004.14 841.33 L1007.60 842.06 L1011.07 842.80 L1014.53 843.56 L1017.99 844.33 L1021.46 845.12 L1024.92 845.92 L1028.38 846.75 L1031.85 847.59 L1035.31 848.46 L1038.78 849.34 L1042.24 850.24 L1045.70 851.17 L1049.17 852.12 L1052.63 853.10 L1056.09 854.10 L1059.56 855.13 L1063.02 856.18 L1066.48 857.27 L1069.95 858.38 L1073.41 859.52 L1076.88 860.70 L1080.34 861.90 L1083.80 863.14 L1087.27 864.41 L1090.73 865.72 L1094.19 867.07 L1097.66 868.45 L1101.12 869.86 L1104.58 871.32 L1108.05 872.82 L1111.51 874.35 L1114.98 875.93 L1118.44 877.55 L1121.90 879.21 L1125.37 880.92 L1128.83 882.67 L1132.29 884.46 L1135.76 886.29 L1139.22 888.17 L1142.68 890.10 L1146.15 892.07 L1149.61 894.08 L1153.07 896.14 L1156.54 898.25 L1160.00 900.39 L1163.47 902.58 L1166.93 904.81 L1170.39 907.09 L1173.86 909.40 L1177.32 911.76 L1180.78 914.15 L1184.25 916.57 L1187.71 919.04 L1191.17 921.53 L1194.64 924.05 L1198.10 926.61 L1201.57 929.18 L1205.03 931.79 L1208.49 934.41 L1211.96 937.05 L1215.42 939.70 L1218.88 942.37 L1222.35 945.05 L1225.81 947.73 L1229.27 950.41 L1232.74 953.10 L1236.20 955.78 L1239.66 958.45 L1243.13 961.12 L1246.59 963.77 L1250.06 966.40 L1253.52 969.02 L1256.98 971.61 L1260.45 974.18 L1263.91 976.72 L1267.37 979.24 L1270.84 981.72 L1274.30 984.16 L1277.76 986.58 L1281.23 988.95 L1284.69 991.29 L1288.16 993.58 L1291.62 995.84 L1295.08 998.05 L1298.55 1000.21 L1302.01 1002.34 L1305.47 1004.41 L1308.94 1006.44 L1312.40 1008.43 L1315.86 1010.37 L1319.33 1012.26 L1322.79 1014.11 L1326.26 1015.91 L1329.72 1017.66 L1333.18 1019.37 L1336.65 1021.03 L1340.11 1022.65 L1343.57 1024.22 L1347.04 1025.75 L1350.50 1027.24 L1353.96 1028.68 L1357.43 1030.08 L1360.89 1031.45 L1364.35 1032.77 L1367.82 1034.05 L1371.28 1035.29 L1374.75 1036.50 L1378.21 1037.66 L1381.67 1038.80 L1385.14 1039.89 L1388.60 1040.96 L1392.06 1041.99 L1395.53 1042.98 L1398.99 1043.95 L1402.45 1044.89 L1405.92 1045.79 L1409.38 1046.67 L1412.85 1047.51 L1416.31 1048.33 L1419.77 1049.13 L1423.24 1049.90 L1426.70 1050.64 L1430.16 1051.36 L1433.63 1052.05 L1437.09 1052.72 L1440.55 1053.37 L1444.02 1054.00 L1447.48 1054.61 L1450.95 1055.19 L1454.41 1055.76 L1457.87 1056.31 L1461.34 1056.84 L1464.80 1057.35 L1468.26 1057.85 L1471.73 1058.33 L1475.19 1058.79 L1478.65 1059.24 L1482.12 1059.67 L1485.58 1060.09 L1489.04 1060.49 L1492.51 1060.88 L1495.97 1061.26 L1499.44 1061.63 L1502.90 1061.98 L1506.36 1062.32 L1509.83 1062.65 L1513.29 1062.96 L1516.75 1063.27 L1520.22 1063.57 L1523.68 1063.85 L1527.14 1064.13 L1530.61 1064.40 L1534.07 1064.66 L1537.54 1064.91 L1541.00 1065.15 L1544.46 1065.38 L1547.93 1065.60 L1551.39 1065.82 L1554.85 1066.03 L1558.32 1066.24 L1561.78 1066.43 L1565.24 1066.62 L1568.71 1066.80 L1572.17 1066.98 L1575.64 1067.15 L1579.10 1067.32 L1582.56 1067.48 L1586.03 1067.63 L1589.49 1067.78 L1592.95 1067.92 L1596.42 1068.06 L1599.88 1068.19 L1603.34 1068.32 L1606.81 1068.45 L1610.27 1068.57 L1613.73 1068.69 L1617.20 1068.80 L1620.66 1068.91 L1624.13 1069.01 L1627.59 1069.11 L1631.05 1069.21 L1634.52 1069.31 L1637.98 1069.40" fill="none" stroke="#7E2F8E" stroke-width="8.33" stroke-linecap="round" stroke-linejoin="round" stroke-dasharray="25.075 25.075 0.000 25.075 0.000 25.075"/>
</g>
<rect x="286" y="297" width="629" height="266" fill="#fff" stroke="#000" stroke-width="6.0" stroke-linejoin="round"/>
<path d="M303.5 336.9 H425" fill="none" stroke="#0072BD" stroke-width="8.33" stroke-linecap="round"/>
<path d="M303.5 400.3 H425" fill="none" stroke="#D95319" stroke-width="8.33" stroke-linecap="round" stroke-dasharray="8.33 16.67"/>
<path d="M303.5 463.7 H425" fill="none" stroke="#EDB120" stroke-width="8.33" stroke-linecap="round" stroke-dasharray="25 25 0 25"/>
<path d="M303.5 526.9 H425" fill="none" stroke="#7E2F8E" stroke-width="8.33" stroke-linecap="round" stroke-dasharray="25 25 0 25 0 25"/>
<text transform="translate(0,114.20) scale(1.0279,1.0000)" x="192.94" y="0" style="font-size:78.5px;" fill="#000" stroke="#000" stroke-width="0.73">0</text>
<text transform="translate(0,284.20) scale(0.9875,1.0000)" x="141.30 167.44 206.69" y="0" style="font-size:78.5px;" fill="#000" stroke="#000" stroke-width="1.00">-50</text>
<text transform="translate(0,452.60) scale(0.9725,1.0000)" x="114.61 140.75 180.00 219.25" y="0" style="font-size:78.5px;" fill="#000" stroke="#000" stroke-width="1.00">-100</text>
<text transform="translate(0,616.80) scale(0.9725,1.0000)" x="114.61 140.75 180.00 219.25" y="0" style="font-size:78.5px;" fill="#000" stroke="#000" stroke-width="1.00">-150</text>
<text transform="translate(0,738.90) scale(0.9781,1.0000)" x="148.91 175.05 214.30" y="0" style="font-size:78.5px;" fill="#000" stroke="#000" stroke-width="1.00">-45</text>
<text transform="translate(0,861.80) scale(0.9773,1.0000)" x="149.03 175.17 214.42" y="0" style="font-size:78.5px;" fill="#000" stroke="#000" stroke-width="1.00">-90</text>
<text transform="translate(0,977.30) scale(0.9615,1.0000)" x="119.81 145.95 185.20 224.45" y="0" style="font-size:78.5px;" fill="#000" stroke="#000" stroke-width="1.00">-135</text>
<text transform="translate(0,1097.50) scale(0.9682,1.0000)" x="118.96 145.10 184.35 223.60" y="0" style="font-size:78.5px;" fill="#000" stroke="#000" stroke-width="1.00">-180</text>
<text transform="translate(0,1155.90) scale(1.0013,1)" x="204.13 243.38 282.24" fill="#000"><tspan y="0.00" style="font-size:78.5px" stroke="#000" stroke-width="0.93">10</tspan><tspan y="-20.70" style="font-size:46.5px" stroke="#000" stroke-width="0.55">0</tspan></text>
<text transform="translate(0,1155.90) scale(0.9853,1)" x="439.98 479.23 518.45" fill="#000"><tspan y="0.00" style="font-size:78.5px" stroke="#000" stroke-width="1.00">10</tspan><tspan y="-20.70" style="font-size:46.5px" stroke="#000" stroke-width="0.63">1</tspan></text>
<text transform="translate(0,1155.90) scale(0.9911,1)" x="671.74 710.99 751.88" fill="#000"><tspan y="0.00" style="font-size:78.5px" stroke="#000" stroke-width="1.00">10</tspan><tspan y="-20.70" style="font-size:46.5px" stroke="#000" stroke-width="0.60">2</tspan></text>
<text transform="translate(0,1155.90) scale(0.9911,1)" x="902.80 942.05 980.86" fill="#000"><tspan y="0.00" style="font-size:78.5px" stroke="#000" stroke-width="1.00">10</tspan><tspan y="-20.70" style="font-size:46.5px" stroke="#000" stroke-width="0.60">3</tspan></text>
<text transform="translate(0,1155.90) scale(0.9911,1)" x="1133.45 1172.70 1213.24" fill="#000"><tspan y="0.00" style="font-size:78.5px" stroke="#000" stroke-width="1.00">10</tspan><tspan y="-20.70" style="font-size:46.5px" stroke="#000" stroke-width="0.60">4</tspan></text>
<text transform="translate(0,1155.90) scale(0.9926,1)" x="1367.94 1407.19 1446.24" fill="#000"><tspan y="0.00" style="font-size:78.5px" stroke="#000" stroke-width="1.00">10</tspan><tspan y="-20.70" style="font-size:46.5px" stroke="#000" stroke-width="0.59">5</tspan></text>
<text transform="translate(0,1155.90) scale(0.9853,1)" x="1612.86 1652.11 1691.41" fill="#000"><tspan y="0.00" style="font-size:78.5px" stroke="#000" stroke-width="1.00">10</tspan><tspan y="-20.70" style="font-size:46.5px" stroke="#000" stroke-width="0.63">6</tspan></text>
<text transform="translate(0,1213.00) scale(1.0750,1)" x="605.58 649.70 671.64 708.33 749.80 788.06 824.59 863.73 895.40 934.59 943.46 970.01 993.24 1050.59" fill="#000"><tspan y="0.00" style="font-size:79px" stroke="#000" stroke-width="0.37">Frequency </tspan><tspan y="4.34" style="font-size:86.9px;font-style:italic" stroke="#fff" stroke-width="0.80">f</tspan><tspan y="5.79" style="font-size:88.1px" stroke="#000" stroke-width="0.00">/</tspan><tspan y="0.00" style="font-size:82px" stroke="#000" stroke-width="0.38">Hz</tspan></text>
<text transform="translate(0,363.00) scale(1.0335,1)" x="424.98 480.98 533.75 577.26 595.36 631.98 648.76 686.82 731.63 755.80 821.61 841.67" fill="#000"><tspan y="0.00" style="font-size:79px" stroke="#000" stroke-width="0.69">DCL </tspan><tspan y="0.00" style="font-size:78.5px" stroke="#000" stroke-width="0.68">0.3L</tspan><tspan y="5.73" style="font-size:89.0px" stroke="#000" stroke-width="0.00">/</tspan><tspan y="0.00" style="font-size:82px" stroke="#000" stroke-width="0.71">min</tspan></text>
<text transform="translate(0,426.00) scale(1.0290,1)" x="426.97 483.20 536.19 579.70 598.05 634.79 651.52 689.92 734.98 759.15 825.25 845.45" fill="#000"><tspan y="0.00" style="font-size:79px" stroke="#000" stroke-width="0.72">DCL </tspan><tspan y="0.00" style="font-size:78.5px" stroke="#000" stroke-width="0.72">0.6L</tspan><tspan y="5.73" style="font-size:89.0px" stroke="#000" stroke-width="0.00">/</tspan><tspan y="0.00" style="font-size:82px" stroke="#000" stroke-width="0.75">min</tspan></text>
<text transform="translate(0,489.00) scale(1.0292,1)" x="426.90 483.12 536.10 579.61 597.96 634.69 652.28 689.82 734.87 759.04 825.13 845.32" fill="#000"><tspan y="0.00" style="font-size:79px" stroke="#000" stroke-width="0.72">DCL </tspan><tspan y="0.00" style="font-size:78.5px" stroke="#000" stroke-width="0.72">0.9L</tspan><tspan y="5.73" style="font-size:89.0px" stroke="#000" stroke-width="0.00">/</tspan><tspan y="0.00" style="font-size:82px" stroke="#000" stroke-width="0.75">min</tspan></text>
<text transform="translate(0,552.00) scale(1.0288,1)" x="427.79 480.45 519.45 567.79 589.52 626.26 643.17 681.41 726.48 750.65 816.76 836.96" fill="#000"><tspan y="0.00" style="font-size:79px" stroke="#000" stroke-width="0.72">CFC </tspan><tspan y="0.00" style="font-size:78.5px" stroke="#000" stroke-width="0.72">0.3L</tspan><tspan y="5.73" style="font-size:89.0px" stroke="#000" stroke-width="0.00">/</tspan><tspan y="0.00" style="font-size:82px" stroke="#000" stroke-width="0.75">min</tspan></text>
<text transform="translate(102.50,639.00) rotate(-90) scale(1.0550,1)" x="-2.27 54.61 121.16 159.75 178.84 203.90 230.59 269.45 309.07 341.40 363.07 406.24 426.48 452.44 488.92 536.84" fill="#000"><tspan y="0.00" style="font-size:79px" stroke="#000" stroke-width="0.52">Amplitude </tspan><tspan y="-0.32" style="font-size:76.2px;font-style:italic" stroke="#fff" stroke-width="0.60">α</tspan><tspan y="-1.17" style="font-size:79.6px" stroke="#000" stroke-width="0.00">/</tspan><tspan y="0.00" style="font-size:79px" stroke="#fff" stroke-width="0.90">(</tspan><tspan y="0.00" style="font-size:77px" stroke="#000" stroke-width="0.51">dB</tspan><tspan y="0.00" style="font-size:79px" stroke="#fff" stroke-width="0.90">)</tspan></text>
<text transform="translate(106.20,1060.10) rotate(-90) scale(1.0776,1)" x="-2.08 38.75 78.45 114.21 141.49 173.81 193.28 231.73 254.35 275.95 303.79" fill="#000"><tspan y="0.00" style="font-size:79px" stroke="#000" stroke-width="0.35">Phase </tspan><tspan y="3.22" style="font-size:75.2px;font-style:italic" stroke="#fff" stroke-width="0.30">β</tspan><tspan y="5.92" style="font-size:89.9px" stroke="#000" stroke-width="0.00">/</tspan><tspan y="0.00" style="font-size:79px" stroke="#fff" stroke-width="0.90">(</tspan><tspan y="0.00" style="font-size:79px" stroke="#000" stroke-width="0.35">°</tspan><tspan y="0.00" style="font-size:79px" stroke="#fff" stroke-width="0.90">)</tspan></text>
</svg>
</body></html>
